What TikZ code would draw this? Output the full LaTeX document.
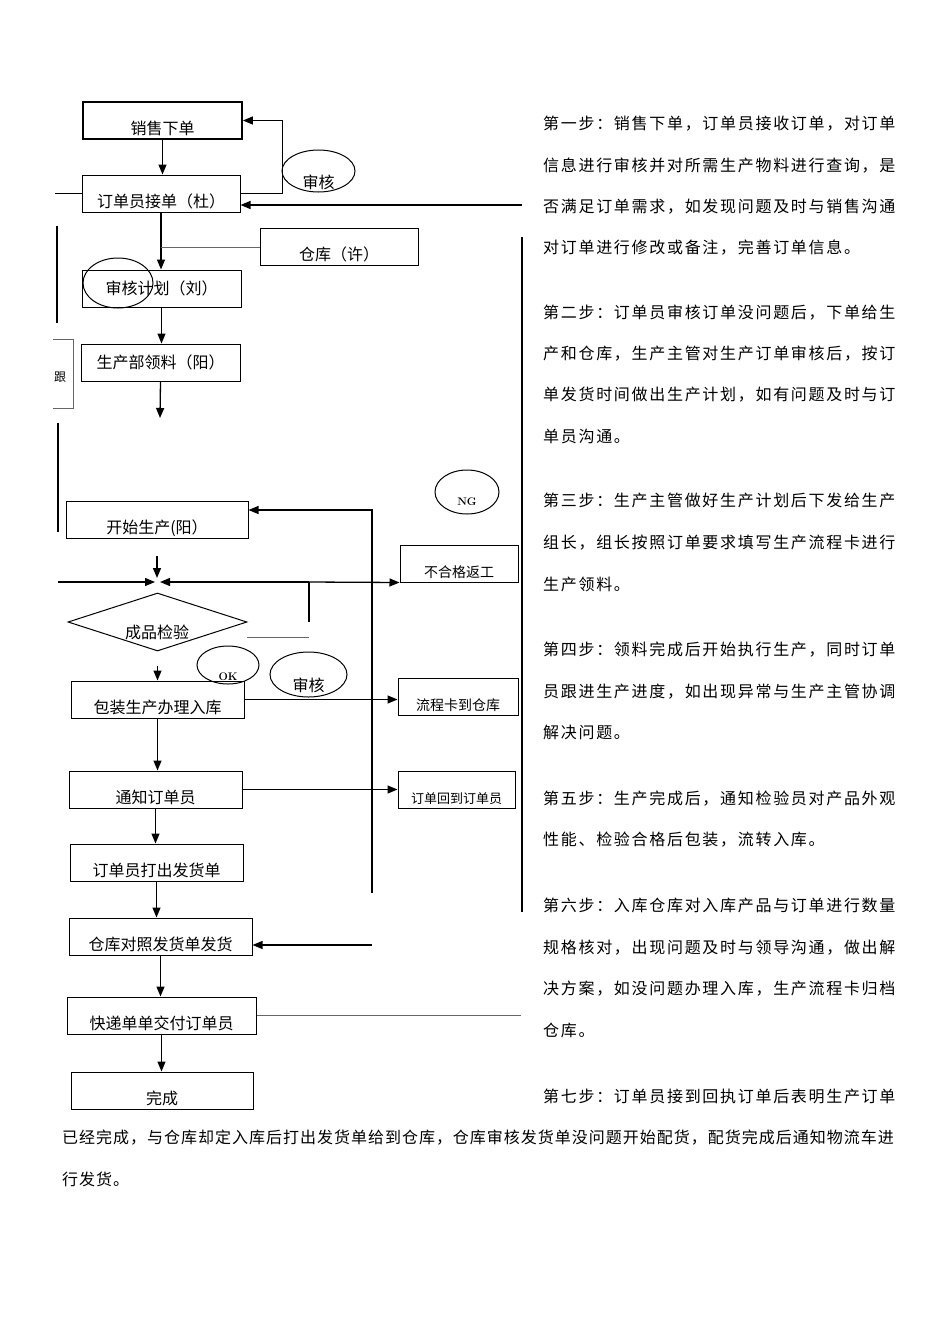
\documentclass[tikz,border=0pt]{standalone}
\usepackage{fontspec}
\newfontfamily\cjk{Noto Sans CJK SC}
\newfontfamily\cjkbody[LetterSpace=10.6]{Noto Sans CJK SC}
\newfontfamily\cjkwide[LetterSpace=6.2]{Noto Sans CJK SC}
\usetikzlibrary{arrows.meta,shapes.geometric,positioning}

\begin{document}
\begin{tikzpicture}[x=1pt,y=-1pt,
    box/.style={draw,line width=1pt,inner sep=0pt,minimum height=37pt,
      text height=32pt,text depth=5pt,font=\cjk\fontsize{16}{16}\selectfont},
    midbox/.style={draw,line width=1pt,inner sep=0pt,minimum height=37pt,
      font=\cjk\fontsize{16}{16}\selectfont},
    sbox/.style={box,font=\cjk\fontsize{14}{14}\selectfont},
    oval/.style={draw,ellipse,line width=1pt,inner sep=0pt},
    tag/.style={inner sep=0pt,font=\cjk\fontsize{16}{16}\selectfont},
    arr/.style={line width=1.3pt,-{Triangle[length=10pt,width=8pt]}},
    ln/.style={line width=1.2pt},
    gln/.style={line width=1pt,black!60},
    para/.style={anchor=base west,inner sep=0pt,font=\cjkbody\fontsize{16}{16}\selectfont}]
  \useasboundingbox (0,0) rectangle (950,1344);

  % main chain
  \node[box,minimum width=159pt,line width=1.8pt] (sales) at (162.5,120.5) {销售下单};
  \node[box,minimum width=158pt] (recv) at (161,193.5) {订单员接单（杜）};
  \node[box,minimum width=158pt] (wh) at (339,247) {仓库（许）};
  \node[midbox,minimum width=159pt] (plan) at (161.5,288.5) {审核计划（刘）};
  \node[midbox,minimum width=159pt] (pick) at (160.5,362.5) {生产部领料（阳）};
  \node[box,minimum width=182pt] (start) at (157,519.5) {开始生产(阳）};
  \node[sbox,minimum width=118pt] (rework) at (459,563.5) {不合格返工};
  \node[draw,diamond,line width=1pt,inner sep=0pt,aspect=3,
    minimum width=179pt,minimum height=58pt] (check) at (157.5,622) {};
  \node[tag] (checkt) at (157,632) {成品检验};
  \node[box,minimum width=173pt] (pack) at (157.5,699.5) {包装生产办理入库};
  \node[sbox,minimum width=120pt] (card) at (458,696.5) {流程卡到仓库};
  \node[sbox,minimum width=117pt,font=\cjk\fontsize{13}{13}\selectfont] (back) at (456.5,789.5) {订单回到订单员};
  \node[box,minimum width=173pt] (notify) at (155.5,789.5) {通知订单员};
  \node[box,minimum width=173pt] (print) at (156.5,862.5) {订单员打出发货单};
  \node[box,minimum width=183pt] (ship) at (160.5,936.5) {仓库对照发货单发货};
  \node[box,minimum width=189pt] (express) at (161.5,1015.5) {快递单单交付订单员};
  \node[box,minimum width=182pt] (done) at (162,1090.5) {完成};

  % ovals
  \node[oval,minimum width=73pt,minimum height=42pt] (chk1) at (318.5,171) {};
  \node[tag] (chk1t) at (318.5,182) {审核};
  \node[oval,minimum width=70pt,minimum height=50pt] (planov) at (118,283) {};
  \node[oval,minimum width=64pt,minimum height=44pt] (ng) at (467,492) {};
  \node[inner sep=0pt,font=\bfseries\fontsize{11}{11}\selectfont] (ngt) at (467,502) {NG};
  \node[oval,minimum width=62pt,minimum height=38pt] (ok) at (228,665) {};
  \node[inner sep=0pt,font=\bfseries\fontsize{11}{11}\selectfont] (okt) at (228,677) {OK};
  \node[oval,minimum width=77pt,minimum height=45pt] (chk2) at (308.5,674.5) {};
  \node[tag] (chk2t) at (308.5,685) {审核};
  \node[inner sep=0pt,font=\cjk\fontsize{12}{12}\selectfont] (gen) at (60,377) {跟};

  % free ends
  \coordinate (l1) at (55,193.5);
  \coordinate (r1) at (522,205);
  \coordinate (p1) at (160,418);
  \coordinate (q0) at (157,556);
  \coordinate (q1) at (157,578);
  \coordinate (j0) at (58,582);
  \coordinate (j1) at (155,582);
  \coordinate (j2) at (160,582);
  \coordinate (j3) at (309,582);
  \coordinate (n1) at (372,893);
  \coordinate (n2) at (372,510);
  \coordinate (ok1) at (157.5,666);
  \coordinate (s1) at (372,945);

  % connectors
  \draw[arr] (sales.south) -- (sales.south |- recv.north);
  \draw[arr] (recv.east) -- ++(42,0) |- (sales.east);
  \draw[arr] (r1) -- (r1 -| recv.east);
  \draw[ln] (l1) -- (recv.west);
  \draw[arr] (recv.south) -- (recv.south |- plan.north);
  \draw[gln] (wh.west) -- (wh.west -| recv.south);
  \draw[arr] (plan.south) -- (plan.south |- pick.north);
  \draw[arr] (pick.south) -- (p1);
  \draw[arr] (q0) -- (q1);
  \draw[arr] (j0) -- (j1);
  \draw[arr] (j3) -- (j2);
  \draw[arr] (j3) -- (rework.south west);
  \draw[ln] (j3) -- (309,622);
  \draw[gln] (247,637) -- (309,637);
  \draw[arr] (n1) -- (n2) -- (n2 -| start.east);
  \draw[arr] (ok1) -- (pack.north);
  \draw[arr] (pack.east) -- (pack.east -| card.west);
  \draw[arr] (pack.south) -- (pack.south |- notify.north);
  \draw[arr] (notify.east) -- (back.west);
  \draw[arr] (notify.south) -- (notify.south |- print.north);
  \draw[arr] (print.south) -- (print.south |- ship.north);
  \draw[arr] (s1) -- (s1 -| ship.east);
  \draw[arr] (ship.south) -- (ship.south |- express.north);
  \draw[gln] (express.east) -- ++(264,0);
  \draw[arr] (express.south) -- (express.south |- done.north);

  % loose bars
  \draw[ln] (57,226) -- (57,323);
  \draw[gln] (53,339) -- (73,339) -- (73,408) -- (53,408);
  \draw[ln] (58,423) -- (58,532);
  \draw[ln] (522,237) -- (522,912);

  % steps
  \foreach \y/\t in {129/第一步：销售下单，订单员接收订单，对订单,
      171/信息进行审核并对所需生产物料进行查询，是,
      212/否满足订单需求，如发现问题及时与销售沟通,
      253/对订单进行修改或备注，完善订单信息。,
      318/第二步：订单员审核订单没问题后，下单给生,
      359/产和仓库，生产主管对生产订单审核后，按订,
      400/单发货时间做出生产计划，如有问题及时与订,
      442/单员沟通。,
      506/第三步：生产主管做好生产计划后下发给生产,
      548/组长，组长按照订单要求填写生产流程卡进行,
      590/生产领料。,
      655/第四步：领料完成后开始执行生产，同时订单,
      697/员跟进生产进度，如出现异常与生产主管协调,
      738/解决问题。,
      804/第五步：生产完成后，通知检验员对产品外观,
      845/性能、检验合格后包装，流转入库。,
      911/第六步：入库仓库对入库产品与订单进行数量,
      953/规格核对，出现问题及时与领导沟通，做出解,
      994/决方案，如没问题办理入库，生产流程卡归档,
      1036/仓库。,
      1102/第七步：订单员接到回执订单后表明生产订单}
    \node[para] (ln\y) at (543,\y) {\t};
  \node[para,font=\cjkwide\fontsize{16}{16}\selectfont] (ln1143) at (62,1143) {已经完成，与仓库却定入库后打出发货单给到仓库，仓库审核发货单没问题开始配货，配货完成后通知物流车进};
  \node[para,font=\cjkwide\fontsize{16}{16}\selectfont] (ln1185) at (62,1185) {行发货。};
\end{tikzpicture}
\end{document}
